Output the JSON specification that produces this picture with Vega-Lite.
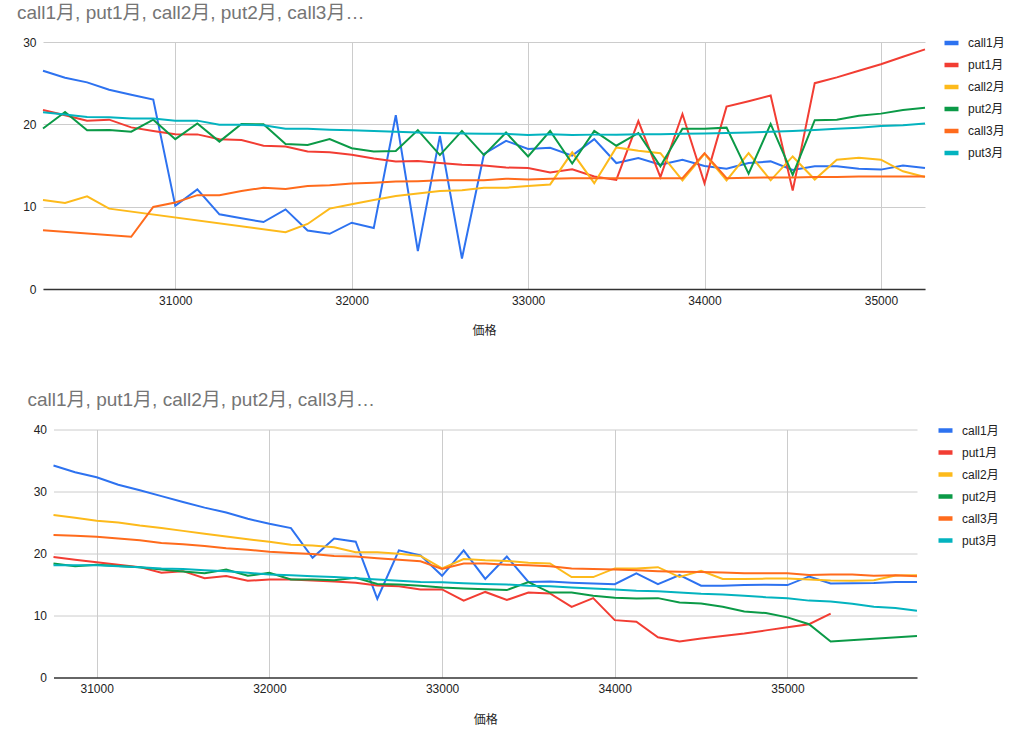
{
  "$schema": "https://vega.github.io/schema/vega-lite/v6.json",
  "background": "white",
  "padding": {"left": 17, "top": 3, "right": 0, "bottom": 0},
  "spacing": 54.5,
  "config": {
    "font": "Liberation Sans, Noto Sans CJK JP, sans-serif",
    "view": {"stroke": null},
    "axis": {
      "labelFont": "Liberation Sans, Noto Sans CJK JP, sans-serif",
      "labelFontSize": 12,
      "labelColor": "#222222",
      "titleFont": "Liberation Sans, Noto Sans CJK JP, sans-serif",
      "titleFontSize": 12,
      "titleFontWeight": "normal",
      "titleColor": "#222222",
      "gridColor": "#cccccc",
      "gridWidth": 1,
      "ticks": false
    },
    "legend": {
      "title": null,
      "orient": "none",
      "labelFont": "Liberation Sans, Noto Sans CJK JP, sans-serif",
      "labelFontSize": 12,
      "labelColor": "#222222",
      "symbolType": "stroke",
      "symbolStrokeWidth": 4.5,
      "symbolSize": 196,
      "rowPadding": 3,
      "labelOffset": 7,
      "padding": 0
    },
    "title": {
      "anchor": "start",
      "frame": "group",
      "fontSize": 19,
      "fontWeight": "normal",
      "color": "#757575",
      "font": "Liberation Sans, Noto Sans CJK JP, sans-serif",
      "baseline": "alphabetic"
    }
  },
  "datasets": {
    "top": [
      {"p":30250,"s":"call1月","v":26.5},{"p":30375,"s":"call1月","v":25.65},{"p":30500,"s":"call1月","v":25.1},{"p":30625,"s":"call1月","v":24.2},{"p":30750,"s":"call1月","v":23.6},{"p":30875,"s":"call1月","v":23.0},{"p":31000,"s":"call1月","v":10.1},{"p":31125,"s":"call1月","v":12.1},{"p":31250,"s":"call1月","v":9.07},{"p":31375,"s":"call1月","v":8.6},{"p":31500,"s":"call1月","v":8.13},{"p":31625,"s":"call1月","v":9.67},{"p":31750,"s":"call1月","v":7.1},{"p":31875,"s":"call1月","v":6.7},{"p":32000,"s":"call1月","v":8.05},{"p":32125,"s":"call1月","v":7.4},{"p":32250,"s":"call1月","v":21.1},{"p":32375,"s":"call1月","v":4.6},{"p":32500,"s":"call1月","v":18.6},{"p":32625,"s":"call1月","v":3.7},{"p":32750,"s":"call1月","v":16.4},{"p":32875,"s":"call1月","v":18.0},{"p":33000,"s":"call1月","v":17.0},{"p":33125,"s":"call1月","v":17.15},{"p":33250,"s":"call1月","v":16.2},{"p":33375,"s":"call1月","v":18.2},{"p":33500,"s":"call1月","v":15.3},{"p":33625,"s":"call1月","v":15.9},{"p":33750,"s":"call1月","v":15.1},{"p":33875,"s":"call1月","v":15.7},{"p":34000,"s":"call1月","v":14.95},{"p":34125,"s":"call1月","v":14.6},{"p":34250,"s":"call1月","v":15.3},{"p":34375,"s":"call1月","v":15.5},{"p":34500,"s":"call1月","v":14.45},{"p":34625,"s":"call1月","v":14.9},{"p":34750,"s":"call1月","v":14.9},{"p":34875,"s":"call1月","v":14.6},{"p":35000,"s":"call1月","v":14.5},{"p":35125,"s":"call1月","v":15.0},{"p":35250,"s":"call1月","v":14.7},
      {"p":30250,"s":"put1月","v":21.75},{"p":30375,"s":"put1月","v":21.1},{"p":30500,"s":"put1月","v":20.45},{"p":30625,"s":"put1月","v":20.57},{"p":30750,"s":"put1月","v":19.63},{"p":30875,"s":"put1月","v":19.2},{"p":31000,"s":"put1月","v":18.8},{"p":31125,"s":"put1月","v":18.78},{"p":31250,"s":"put1月","v":18.2},{"p":31375,"s":"put1月","v":18.1},{"p":31500,"s":"put1月","v":17.4},{"p":31625,"s":"put1月","v":17.3},{"p":31750,"s":"put1月","v":16.7},{"p":31875,"s":"put1月","v":16.6},{"p":32000,"s":"put1月","v":16.3},{"p":32125,"s":"put1月","v":15.85},{"p":32250,"s":"put1月","v":15.5},{"p":32375,"s":"put1月","v":15.55},{"p":32500,"s":"put1月","v":15.3},{"p":32625,"s":"put1月","v":15.1},{"p":32750,"s":"put1月","v":15.0},{"p":32875,"s":"put1月","v":14.75},{"p":33000,"s":"put1月","v":14.7},{"p":33125,"s":"put1月","v":14.15},{"p":33250,"s":"put1月","v":14.55},{"p":33375,"s":"put1月","v":13.66},{"p":33500,"s":"put1月","v":13.25},{"p":33625,"s":"put1月","v":20.4},{"p":33750,"s":"put1月","v":13.6},{"p":33875,"s":"put1月","v":21.25},{"p":34000,"s":"put1月","v":12.85},{"p":34125,"s":"put1月","v":22.15},{"p":34250,"s":"put1月","v":22.8},{"p":34375,"s":"put1月","v":23.5},{"p":34500,"s":"put1月","v":11.95},{"p":34625,"s":"put1月","v":25.0},{"p":34750,"s":"put1月","v":25.7},{"p":34875,"s":"put1月","v":26.5},{"p":35000,"s":"put1月","v":27.3},{"p":35125,"s":"put1月","v":28.2},{"p":35250,"s":"put1月","v":29.1},
      {"p":30250,"s":"call2月","v":10.8},{"p":30375,"s":"call2月","v":10.45},{"p":30500,"s":"call2月","v":11.26},{"p":30625,"s":"call2月","v":9.76},{"p":31625,"s":"call2月","v":6.9},{"p":31750,"s":"call2月","v":7.9},{"p":31875,"s":"call2月","v":9.76},{"p":32000,"s":"call2月","v":10.3},{"p":32125,"s":"call2月","v":10.8},{"p":32250,"s":"call2月","v":11.3},{"p":32375,"s":"call2月","v":11.6},{"p":32500,"s":"call2月","v":11.9},{"p":32625,"s":"call2月","v":12.0},{"p":32750,"s":"call2月","v":12.3},{"p":32875,"s":"call2月","v":12.3},{"p":33000,"s":"call2月","v":12.5},{"p":33125,"s":"call2月","v":12.7},{"p":33250,"s":"call2月","v":16.6},{"p":33375,"s":"call2月","v":12.85},{"p":33500,"s":"call2月","v":17.2},{"p":33625,"s":"call2月","v":16.8},{"p":33750,"s":"call2月","v":16.5},{"p":33875,"s":"call2月","v":13.2},{"p":34000,"s":"call2月","v":16.4},{"p":34125,"s":"call2月","v":13.2},{"p":34250,"s":"call2月","v":16.5},{"p":34375,"s":"call2月","v":13.2},{"p":34500,"s":"call2月","v":16.1},{"p":34625,"s":"call2月","v":13.3},{"p":34750,"s":"call2月","v":15.7},{"p":34875,"s":"call2月","v":15.95},{"p":35000,"s":"call2月","v":15.7},{"p":35125,"s":"call2月","v":14.3},{"p":35250,"s":"call2月","v":13.6},
      {"p":30250,"s":"put2月","v":19.5},{"p":30375,"s":"put2月","v":21.5},{"p":30500,"s":"put2月","v":19.27},{"p":30625,"s":"put2月","v":19.3},{"p":30750,"s":"put2月","v":19.1},{"p":30875,"s":"put2月","v":20.57},{"p":31000,"s":"put2月","v":18.2},{"p":31125,"s":"put2月","v":20.1},{"p":31250,"s":"put2月","v":17.9},{"p":31375,"s":"put2月","v":20.05},{"p":31500,"s":"put2月","v":20.0},{"p":31625,"s":"put2月","v":17.6},{"p":31750,"s":"put2月","v":17.5},{"p":31875,"s":"put2月","v":18.2},{"p":32000,"s":"put2月","v":17.1},{"p":32125,"s":"put2月","v":16.7},{"p":32250,"s":"put2月","v":16.75},{"p":32375,"s":"put2月","v":19.3},{"p":32500,"s":"put2月","v":16.26},{"p":32625,"s":"put2月","v":19.2},{"p":32750,"s":"put2月","v":16.26},{"p":32875,"s":"put2月","v":19.0},{"p":33000,"s":"put2月","v":16.1},{"p":33125,"s":"put2月","v":19.2},{"p":33250,"s":"put2月","v":15.25},{"p":33375,"s":"put2月","v":19.2},{"p":33500,"s":"put2月","v":17.4},{"p":33625,"s":"put2月","v":18.95},{"p":33750,"s":"put2月","v":14.9},{"p":33875,"s":"put2月","v":19.45},{"p":34000,"s":"put2月","v":19.45},{"p":34125,"s":"put2月","v":19.6},{"p":34250,"s":"put2月","v":14.0},{"p":34375,"s":"put2月","v":20.05},{"p":34500,"s":"put2月","v":13.85},{"p":34625,"s":"put2月","v":20.5},{"p":34750,"s":"put2月","v":20.55},{"p":34875,"s":"put2月","v":21.05},{"p":35000,"s":"put2月","v":21.3},{"p":35125,"s":"put2月","v":21.75},{"p":35250,"s":"put2月","v":22.0},
      {"p":30250,"s":"call3月","v":7.15},{"p":30750,"s":"call3月","v":6.34},{"p":30875,"s":"call3月","v":9.96},{"p":31000,"s":"call3月","v":10.5},{"p":31125,"s":"call3月","v":11.4},{"p":31250,"s":"call3月","v":11.4},{"p":31375,"s":"call3月","v":11.9},{"p":31500,"s":"call3月","v":12.3},{"p":31625,"s":"call3月","v":12.15},{"p":31750,"s":"call3月","v":12.5},{"p":31875,"s":"call3月","v":12.6},{"p":32000,"s":"call3月","v":12.8},{"p":32125,"s":"call3月","v":12.9},{"p":32250,"s":"call3月","v":13.05},{"p":32375,"s":"call3月","v":13.1},{"p":32500,"s":"call3月","v":13.2},{"p":32625,"s":"call3月","v":13.2},{"p":32750,"s":"call3月","v":13.2},{"p":32875,"s":"call3月","v":13.4},{"p":33000,"s":"call3月","v":13.3},{"p":33125,"s":"call3月","v":13.4},{"p":33250,"s":"call3月","v":13.45},{"p":33375,"s":"call3月","v":13.45},{"p":33500,"s":"call3月","v":13.45},{"p":33625,"s":"call3月","v":13.45},{"p":33750,"s":"call3月","v":13.45},{"p":33875,"s":"call3月","v":13.45},{"p":34000,"s":"call3月","v":16.5},{"p":34125,"s":"call3月","v":13.45},{"p":34250,"s":"call3月","v":13.5},{"p":34375,"s":"call3月","v":13.55},{"p":34500,"s":"call3月","v":13.55},{"p":34625,"s":"call3月","v":13.6},{"p":34750,"s":"call3月","v":13.6},{"p":34875,"s":"call3月","v":13.65},{"p":35000,"s":"call3月","v":13.65},{"p":35125,"s":"call3月","v":13.65},{"p":35250,"s":"call3月","v":13.65},
      {"p":30250,"s":"put3月","v":21.46},{"p":30375,"s":"put3月","v":21.2},{"p":30500,"s":"put3月","v":20.9},{"p":30625,"s":"put3月","v":20.85},{"p":30750,"s":"put3月","v":20.7},{"p":30875,"s":"put3月","v":20.7},{"p":31000,"s":"put3月","v":20.45},{"p":31125,"s":"put3月","v":20.45},{"p":31250,"s":"put3月","v":19.96},{"p":31375,"s":"put3月","v":19.96},{"p":31500,"s":"put3月","v":19.9},{"p":31625,"s":"put3月","v":19.47},{"p":31750,"s":"put3月","v":19.47},{"p":31875,"s":"put3月","v":19.35},{"p":32000,"s":"put3月","v":19.27},{"p":32125,"s":"put3月","v":19.2},{"p":32250,"s":"put3月","v":19.1},{"p":32375,"s":"put3月","v":19.0},{"p":32500,"s":"put3月","v":18.95},{"p":32625,"s":"put3月","v":18.9},{"p":32750,"s":"put3月","v":18.85},{"p":32875,"s":"put3月","v":18.85},{"p":33000,"s":"put3月","v":18.7},{"p":33125,"s":"put3月","v":18.8},{"p":33250,"s":"put3月","v":18.7},{"p":33375,"s":"put3月","v":18.75},{"p":33500,"s":"put3月","v":18.75},{"p":33625,"s":"put3月","v":18.8},{"p":33750,"s":"put3月","v":18.8},{"p":33875,"s":"put3月","v":18.85},{"p":34000,"s":"put3月","v":18.9},{"p":34125,"s":"put3月","v":18.95},{"p":34250,"s":"put3月","v":19.0},{"p":34375,"s":"put3月","v":19.1},{"p":34500,"s":"put3月","v":19.2},{"p":34625,"s":"put3月","v":19.3},{"p":34750,"s":"put3月","v":19.45},{"p":34875,"s":"put3月","v":19.6},{"p":35000,"s":"put3月","v":19.8},{"p":35125,"s":"put3月","v":19.9},{"p":35250,"s":"put3月","v":20.1}
    ],
    "bottom": [
      {"p":30750,"s":"call1月","v":34.2},{"p":30875,"s":"call1月","v":33.1},{"p":31000,"s":"call1月","v":32.3},{"p":31125,"s":"call1月","v":31.1},{"p":31250,"s":"call1月","v":30.2},{"p":31375,"s":"call1月","v":29.25},{"p":31500,"s":"call1月","v":28.3},{"p":31625,"s":"call1月","v":27.4},{"p":31750,"s":"call1月","v":26.6},{"p":31875,"s":"call1月","v":25.6},{"p":32000,"s":"call1月","v":24.8},{"p":32125,"s":"call1月","v":24.1},{"p":32250,"s":"call1月","v":19.3},{"p":32375,"s":"call1月","v":22.4},{"p":32500,"s":"call1月","v":21.9},{"p":32625,"s":"call1月","v":12.7},{"p":32750,"s":"call1月","v":20.5},{"p":32875,"s":"call1月","v":19.7},{"p":33000,"s":"call1月","v":16.4},{"p":33125,"s":"call1月","v":20.5},{"p":33250,"s":"call1月","v":15.9},{"p":33375,"s":"call1月","v":19.5},{"p":33500,"s":"call1月","v":15.4},{"p":33625,"s":"call1月","v":15.5},{"p":33750,"s":"call1月","v":15.3},{"p":33875,"s":"call1月","v":15.15},{"p":34000,"s":"call1月","v":15.05},{"p":34125,"s":"call1月","v":16.8},{"p":34250,"s":"call1月","v":15.05},{"p":34375,"s":"call1月","v":16.5},{"p":34500,"s":"call1月","v":14.8},{"p":34625,"s":"call1月","v":14.8},{"p":34750,"s":"call1月","v":14.9},{"p":34875,"s":"call1月","v":14.95},{"p":35000,"s":"call1月","v":14.9},{"p":35125,"s":"call1月","v":16.3},{"p":35250,"s":"call1月","v":15.15},{"p":35375,"s":"call1月","v":15.2},{"p":35500,"s":"call1月","v":15.25},{"p":35625,"s":"call1月","v":15.4},{"p":35750,"s":"call1月","v":15.4},
      {"p":30750,"s":"put1月","v":19.45},{"p":30875,"s":"put1月","v":19.0},{"p":31000,"s":"put1月","v":18.6},{"p":31125,"s":"put1月","v":18.2},{"p":31250,"s":"put1月","v":17.8},{"p":31375,"s":"put1月","v":16.9},{"p":31500,"s":"put1月","v":17.15},{"p":31625,"s":"put1月","v":16.0},{"p":31750,"s":"put1月","v":16.35},{"p":31875,"s":"put1月","v":15.6},{"p":32000,"s":"put1月","v":15.8},{"p":32125,"s":"put1月","v":15.8},{"p":32250,"s":"put1月","v":15.65},{"p":32375,"s":"put1月","v":15.5},{"p":32500,"s":"put1月","v":15.3},{"p":32625,"s":"put1月","v":14.85},{"p":32750,"s":"put1月","v":14.7},{"p":32875,"s":"put1月","v":14.2},{"p":33000,"s":"put1月","v":14.2},{"p":33125,"s":"put1月","v":12.4},{"p":33250,"s":"put1月","v":13.8},{"p":33375,"s":"put1月","v":12.5},{"p":33500,"s":"put1月","v":13.7},{"p":33625,"s":"put1月","v":13.55},{"p":33750,"s":"put1月","v":11.4},{"p":33875,"s":"put1月","v":12.8},{"p":34000,"s":"put1月","v":9.25},{"p":34125,"s":"put1月","v":9.0},{"p":34250,"s":"put1月","v":6.5},{"p":34375,"s":"put1月","v":5.8},{"p":34500,"s":"put1月","v":6.3},{"p":34625,"s":"put1月","v":6.7},{"p":34750,"s":"put1月","v":7.1},{"p":34875,"s":"put1月","v":7.6},{"p":35000,"s":"put1月","v":8.1},{"p":35125,"s":"put1月","v":8.6},{"p":35250,"s":"put1月","v":10.3},
      {"p":30750,"s":"call2月","v":26.2},{"p":30875,"s":"call2月","v":25.75},{"p":31000,"s":"call2月","v":25.3},{"p":31125,"s":"call2月","v":25.0},{"p":31250,"s":"call2月","v":24.5},{"p":31375,"s":"call2月","v":24.1},{"p":31500,"s":"call2月","v":23.65},{"p":31625,"s":"call2月","v":23.2},{"p":31750,"s":"call2月","v":22.75},{"p":31875,"s":"call2月","v":22.3},{"p":32000,"s":"call2月","v":21.9},{"p":32125,"s":"call2月","v":21.4},{"p":32250,"s":"call2月","v":21.3},{"p":32375,"s":"call2月","v":21.0},{"p":32500,"s":"call2月","v":20.2},{"p":32625,"s":"call2月","v":20.2},{"p":32750,"s":"call2月","v":19.95},{"p":32875,"s":"call2月","v":19.6},{"p":33000,"s":"call2月","v":17.6},{"p":33125,"s":"call2月","v":19.1},{"p":33250,"s":"call2月","v":18.9},{"p":33375,"s":"call2月","v":18.8},{"p":33500,"s":"call2月","v":18.5},{"p":33625,"s":"call2月","v":18.4},{"p":33750,"s":"call2月","v":16.2},{"p":33875,"s":"call2月","v":16.2},{"p":34000,"s":"call2月","v":17.6},{"p":34125,"s":"call2月","v":17.6},{"p":34250,"s":"call2月","v":17.8},{"p":34375,"s":"call2月","v":16.2},{"p":34500,"s":"call2月","v":17.2},{"p":34625,"s":"call2月","v":15.9},{"p":34750,"s":"call2月","v":15.9},{"p":34875,"s":"call2月","v":15.95},{"p":35000,"s":"call2月","v":15.95},{"p":35125,"s":"call2月","v":15.8},{"p":35250,"s":"call2月","v":15.65},{"p":35375,"s":"call2月","v":15.6},{"p":35500,"s":"call2月","v":15.7},{"p":35625,"s":"call2月","v":16.45},{"p":35750,"s":"call2月","v":16.5},
      {"p":30750,"s":"put2月","v":18.4},{"p":30875,"s":"put2月","v":17.95},{"p":31000,"s":"put2月","v":18.2},{"p":31125,"s":"put2月","v":18.0},{"p":31250,"s":"put2月","v":17.8},{"p":31375,"s":"put2月","v":17.4},{"p":31500,"s":"put2月","v":17.1},{"p":31625,"s":"put2月","v":16.8},{"p":31750,"s":"put2月","v":17.4},{"p":31875,"s":"put2月","v":16.4},{"p":32000,"s":"put2月","v":16.9},{"p":32125,"s":"put2月","v":15.8},{"p":32250,"s":"put2月","v":15.8},{"p":32375,"s":"put2月","v":15.7},{"p":32500,"s":"put2月","v":16.1},{"p":32625,"s":"put2月","v":15.1},{"p":32750,"s":"put2月","v":15.0},{"p":32875,"s":"put2月","v":14.8},{"p":33000,"s":"put2月","v":14.5},{"p":33125,"s":"put2月","v":14.35},{"p":33250,"s":"put2月","v":14.25},{"p":33375,"s":"put2月","v":14.1},{"p":33500,"s":"put2月","v":15.4},{"p":33625,"s":"put2月","v":13.7},{"p":33750,"s":"put2月","v":13.7},{"p":33875,"s":"put2月","v":13.2},{"p":34000,"s":"put2月","v":12.85},{"p":34125,"s":"put2月","v":12.75},{"p":34250,"s":"put2月","v":12.8},{"p":34375,"s":"put2月","v":12.1},{"p":34500,"s":"put2月","v":11.95},{"p":34625,"s":"put2月","v":11.4},{"p":34750,"s":"put2月","v":10.65},{"p":34875,"s":"put2月","v":10.4},{"p":35000,"s":"put2月","v":9.7},{"p":35125,"s":"put2月","v":8.6},{"p":35250,"s":"put2月","v":5.8},{"p":35750,"s":"put2月","v":6.7},
      {"p":30750,"s":"call3月","v":23.0},{"p":30875,"s":"call3月","v":22.85},{"p":31000,"s":"call3月","v":22.7},{"p":31125,"s":"call3月","v":22.4},{"p":31250,"s":"call3月","v":22.15},{"p":31375,"s":"call3月","v":21.7},{"p":31500,"s":"call3月","v":21.5},{"p":31625,"s":"call3月","v":21.2},{"p":31750,"s":"call3月","v":20.85},{"p":31875,"s":"call3月","v":20.6},{"p":32000,"s":"call3月","v":20.3},{"p":32125,"s":"call3月","v":20.1},{"p":32250,"s":"call3月","v":19.9},{"p":32375,"s":"call3月","v":19.6},{"p":32500,"s":"call3月","v":19.5},{"p":32625,"s":"call3月","v":19.25},{"p":32750,"s":"call3月","v":19.0},{"p":32875,"s":"call3月","v":18.75},{"p":33000,"s":"call3月","v":17.5},{"p":33125,"s":"call3月","v":18.4},{"p":33250,"s":"call3月","v":18.4},{"p":33375,"s":"call3月","v":18.2},{"p":33500,"s":"call3月","v":18.1},{"p":33625,"s":"call3月","v":17.95},{"p":33750,"s":"call3月","v":17.6},{"p":33875,"s":"call3月","v":17.5},{"p":34000,"s":"call3月","v":17.4},{"p":34125,"s":"call3月","v":17.3},{"p":34250,"s":"call3月","v":17.15},{"p":34375,"s":"call3月","v":17.05},{"p":34500,"s":"call3月","v":17.0},{"p":34625,"s":"call3月","v":16.95},{"p":34750,"s":"call3月","v":16.8},{"p":34875,"s":"call3月","v":16.8},{"p":35000,"s":"call3月","v":16.8},{"p":35125,"s":"call3月","v":16.55},{"p":35250,"s":"call3月","v":16.6},{"p":35375,"s":"call3月","v":16.6},{"p":35500,"s":"call3月","v":16.4},{"p":35625,"s":"call3月","v":16.5},{"p":35750,"s":"call3月","v":16.35},
      {"p":30750,"s":"put3月","v":18.1},{"p":30875,"s":"put3月","v":18.1},{"p":31000,"s":"put3月","v":18.1},{"p":31125,"s":"put3月","v":17.95},{"p":31250,"s":"put3月","v":17.8},{"p":31375,"s":"put3月","v":17.6},{"p":31500,"s":"put3月","v":17.5},{"p":31625,"s":"put3月","v":17.3},{"p":31750,"s":"put3月","v":17.15},{"p":31875,"s":"put3月","v":16.9},{"p":32000,"s":"put3月","v":16.6},{"p":32125,"s":"put3月","v":16.5},{"p":32250,"s":"put3月","v":16.35},{"p":32375,"s":"put3月","v":16.2},{"p":32500,"s":"put3月","v":16.0},{"p":32625,"s":"put3月","v":15.8},{"p":32750,"s":"put3月","v":15.6},{"p":32875,"s":"put3月","v":15.4},{"p":33000,"s":"put3月","v":15.35},{"p":33125,"s":"put3月","v":15.2},{"p":33250,"s":"put3月","v":15.1},{"p":33375,"s":"put3月","v":15.0},{"p":33500,"s":"put3月","v":14.8},{"p":33625,"s":"put3月","v":14.7},{"p":33750,"s":"put3月","v":14.5},{"p":33875,"s":"put3月","v":14.35},{"p":34000,"s":"put3月","v":14.2},{"p":34125,"s":"put3月","v":14.0},{"p":34250,"s":"put3月","v":13.9},{"p":34375,"s":"put3月","v":13.7},{"p":34500,"s":"put3月","v":13.5},{"p":34625,"s":"put3月","v":13.4},{"p":34750,"s":"put3月","v":13.2},{"p":34875,"s":"put3月","v":12.95},{"p":35000,"s":"put3月","v":12.8},{"p":35125,"s":"put3月","v":12.4},{"p":35250,"s":"put3月","v":12.25},{"p":35375,"s":"put3月","v":11.9},{"p":35500,"s":"put3月","v":11.4},{"p":35625,"s":"put3月","v":11.2},{"p":35750,"s":"put3月","v":10.75}
    ]
  },
  "vconcat": [
    {
      "width": 882,
      "height": 247,
      "title": {"text": "call1月, put1月, call2月, put2月, call3月…", "dx": -26, "offset": 11},
      "data": {"name": "top"},
      "mark": {"type": "line", "strokeWidth": 2},
      "encoding": {
        "x": {
          "field": "p", "type": "quantitative",
          "scale": {"domain": [30250, 35250], "nice": false, "zero": false},
          "axis": {"title": "価格", "values": [31000, 32000, 33000, 34000, 35000], "format": "d", "labelPadding": 6, "titlePadding": 19, "domainColor": "#333333", "domainWidth": 1.5}
        },
        "y": {
          "field": "v", "type": "quantitative",
          "scale": {"domain": [0, 30], "nice": false},
          "axis": {"title": null, "values": [0, 10, 20, 30], "domain": false, "labelPadding": 7}
        },
        "color": {
          "field": "s", "type": "nominal",
          "scale": {"domain": ["call1月", "put1月", "call2月", "put2月", "call3月", "put3月"], "range": ["#2D72F0", "#F23D33", "#FDBA1B", "#0B9A47", "#FF6B1C", "#03B3BF"]},
          "legend": {"legendX": 899, "legendY": -8.5}
        }
      }
    },
    {
      "width": 874,
      "height": 248,
      "title": {"text": "call1月, put1月, call2月, put2月, call3月…", "dx": -15.5, "offset": 11},
      "data": {"name": "bottom"},
      "mark": {"type": "line", "strokeWidth": 2},
      "encoding": {
        "x": {
          "field": "p", "type": "quantitative",
          "scale": {"domain": [30750, 35750], "nice": false, "zero": false, "range": [10.5, 874]},
          "axis": {"title": "価格", "values": [31000, 32000, 33000, 34000, 35000], "format": "d", "labelPadding": 6, "titlePadding": 20, "domain": false}
        },
        "y": {
          "field": "v", "type": "quantitative",
          "scale": {"domain": [0, 40], "nice": false},
          "axis": {
            "title": null, "values": [0, 10, 20, 30, 40], "domain": false, "labelPadding": 7, "offset": -10.5, "grid": true,
            "gridColor": {"condition": {"test": "datum.value === 0", "value": "#333333"}, "value": "#cccccc"},
            "gridWidth": {"condition": {"test": "datum.value === 0", "value": 1.5}, "value": 1}
          }
        },
        "color": {
          "field": "s", "type": "nominal",
          "scale": {"domain": ["call1月", "put1月", "call2月", "put2月", "call3月", "put3月"], "range": ["#2D72F0", "#F23D33", "#FDBA1B", "#0B9A47", "#FF6B1C", "#03B3BF"]},
          "legend": {"legendX": 893, "legendY": -8.5}
        }
      }
    }
  ],
  "resolve": {"scale": {"color": "independent", "x": "independent", "y": "independent"}, "legend": {"color": "independent"}}
}
